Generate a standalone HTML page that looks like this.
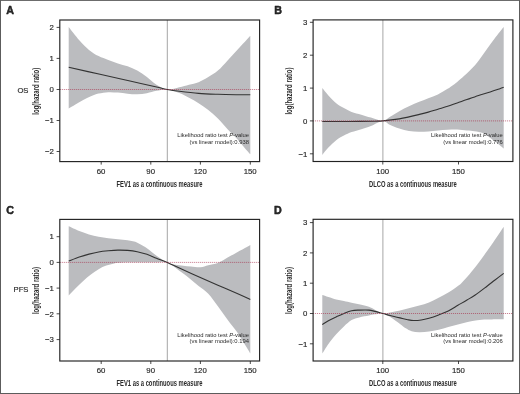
<!DOCTYPE html>
<html><head><meta charset="utf-8"><title>Figure</title>
<style>html,body{margin:0;padding:0;background:#fff}svg{display:block}text{font-family:"Liberation Sans",sans-serif;fill:#2a2a2a}.k{stroke:#2a2a2a;stroke-width:0.16px}</style></head><body>
<svg width="520" height="394" viewBox="0 0 520 394" style="will-change:transform">
<rect x="0" y="0" width="520" height="394" fill="#fff"/>
<g>
<path d="M68.70 27.10C70.47 29.30 75.92 36.50 79.30 40.30C82.68 44.10 85.78 47.27 89.00 49.90C92.22 52.53 95.38 54.42 98.60 56.10C101.82 57.78 105.08 58.78 108.30 60.00C111.52 61.22 114.68 62.35 117.90 63.40C121.12 64.45 124.38 65.10 127.60 66.30C130.82 67.50 133.98 68.83 137.20 70.60C140.42 72.37 143.68 74.55 146.90 76.90C150.12 79.25 153.10 82.60 156.50 84.70C159.90 86.80 163.50 89.08 167.30 89.50C171.10 89.92 175.68 88.00 179.30 87.20C182.92 86.40 185.78 85.53 189.00 84.70C192.22 83.87 195.38 83.48 198.60 82.20C201.82 80.92 205.08 78.93 208.30 77.00C211.52 75.07 214.68 73.37 217.90 70.60C221.12 67.83 224.38 63.83 227.60 60.40C230.82 56.97 233.98 53.48 237.20 50.00C240.42 46.52 244.72 41.87 246.90 39.50C249.08 37.13 249.73 36.42 250.30 35.80L250.30 154.30C249.73 153.67 249.08 153.07 246.90 150.50C244.72 147.93 240.42 142.45 237.20 138.90C233.98 135.35 230.82 132.58 227.60 129.20C224.38 125.82 221.12 121.82 217.90 118.60C214.68 115.38 211.52 112.47 208.30 109.90C205.08 107.33 201.82 105.22 198.60 103.20C195.38 101.18 192.22 99.48 189.00 97.80C185.78 96.12 182.92 94.48 179.30 93.10C175.68 91.72 171.10 89.88 167.30 89.50C163.50 89.12 159.90 90.18 156.50 90.80C153.10 91.42 150.12 92.62 146.90 93.20C143.68 93.78 140.42 94.22 137.20 94.30C133.98 94.38 130.82 93.98 127.60 93.70C124.38 93.42 121.12 92.85 117.90 92.60C114.68 92.35 111.52 92.03 108.30 92.20C105.08 92.37 101.50 92.92 98.60 93.60C95.70 94.28 93.47 95.23 90.90 96.30C88.33 97.37 85.78 98.63 83.20 100.00C80.62 101.37 77.82 103.07 75.40 104.50C72.98 105.93 69.82 107.92 68.70 108.60Z" fill="#bbbcbf"/>
<line x1="167.30" y1="20.00" x2="167.30" y2="161.60" stroke="#a6a6a6" stroke-width="1.0"/>
<path d="M68.70 67.30C73.92 68.47 89.78 72.02 100.00 74.30C110.22 76.58 120.00 78.75 130.00 81.00C140.00 83.25 153.78 86.38 160.00 87.80C166.22 89.22 164.08 88.92 167.30 89.50C170.52 90.08 174.08 90.65 179.30 91.30C184.52 91.95 192.17 92.90 198.60 93.40C205.03 93.90 211.50 94.08 217.90 94.30C224.30 94.52 231.60 94.62 237.00 94.70C242.40 94.78 248.08 94.78 250.30 94.80" fill="none" stroke="#333" stroke-width="1.1"/>
<line x1="59.80" y1="89.50" x2="259.60" y2="89.50" stroke="#a8304c" stroke-width="0.75" stroke-dasharray="1 1" stroke-opacity="0.9"/>
<rect x="59.80" y="20.00" width="199.80" height="141.60" fill="none" stroke="#222" stroke-width="1.15"/>
<line x1="101.20" y1="161.60" x2="101.20" y2="164.60" stroke="#1c1c1c" stroke-width="0.8"/>
<text x="101.10" y="173.80" font-size="7.80" text-anchor="middle" class="k">60</text>
<line x1="150.80" y1="161.60" x2="150.80" y2="164.60" stroke="#1c1c1c" stroke-width="0.8"/>
<text x="150.70" y="173.80" font-size="7.80" text-anchor="middle" class="k">90</text>
<line x1="200.40" y1="161.60" x2="200.40" y2="164.60" stroke="#1c1c1c" stroke-width="0.8"/>
<text x="200.30" y="173.80" font-size="7.80" text-anchor="middle" class="k">120</text>
<line x1="250.30" y1="161.60" x2="250.30" y2="164.60" stroke="#1c1c1c" stroke-width="0.8"/>
<text x="250.20" y="173.80" font-size="7.80" text-anchor="middle" class="k">150</text>
<line x1="56.60" y1="27.40" x2="59.80" y2="27.40" stroke="#1c1c1c" stroke-width="0.8"/>
<text x="53.80" y="30.15" font-size="7.80" text-anchor="end" class="k">2</text>
<line x1="56.60" y1="58.40" x2="59.80" y2="58.40" stroke="#1c1c1c" stroke-width="0.8"/>
<text x="53.80" y="61.15" font-size="7.80" text-anchor="end" class="k">1</text>
<line x1="56.60" y1="89.50" x2="59.80" y2="89.50" stroke="#1c1c1c" stroke-width="0.8"/>
<text x="53.80" y="92.25" font-size="7.80" text-anchor="end" class="k">0</text>
<line x1="56.60" y1="120.50" x2="59.80" y2="120.50" stroke="#1c1c1c" stroke-width="0.8"/>
<text x="53.80" y="123.25" font-size="7.80" text-anchor="end" class="k">−1</text>
<line x1="56.60" y1="151.50" x2="59.80" y2="151.50" stroke="#1c1c1c" stroke-width="0.8"/>
<text x="53.80" y="154.25" font-size="7.80" text-anchor="end" class="k">−2</text>
<text x="249.00" y="137.30" font-size="5.85" text-anchor="end">Likelihood ratio test <tspan font-style="italic">P</tspan>-value</text>
<text x="249.00" y="144.10" font-size="5.85" text-anchor="end">(vs linear model):0.938</text>
<text transform="translate(159.50 187.00) scale(0.7010 1)" font-size="8.30" text-anchor="middle" font-weight="bold" fill="#333">FEV1 as a continuous measure</text>
<text transform="translate(39.30 91.20) rotate(-90) scale(0.7229 1)" font-size="8.30" text-anchor="middle" font-weight="bold" fill="#333">log(hazard ratio)</text>
<text x="28.5" y="93.30" font-size="7.7" text-anchor="end" class="k">OS</text>
<text x="6.30" y="14.00" font-size="10.7" font-weight="bold" fill="#111" stroke="#111" stroke-width="0.45" stroke-linejoin="round">A</text>
</g>
<g>
<path d="M322.30 88.10C323.32 89.32 326.08 92.88 328.40 95.40C330.72 97.92 333.62 101.10 336.20 103.20C338.78 105.30 341.33 106.55 343.90 108.00C346.47 109.45 348.70 110.78 351.60 111.90C354.50 113.02 358.08 113.75 361.30 114.70C364.52 115.65 367.30 116.57 370.90 117.60C374.50 118.63 379.77 121.00 382.90 120.90C386.03 120.80 386.97 118.62 389.70 117.00C392.43 115.38 396.08 112.98 399.30 111.20C402.52 109.42 405.78 107.82 409.00 106.30C412.22 104.78 415.38 103.45 418.60 102.10C421.82 100.75 425.08 99.48 428.30 98.20C431.52 96.92 434.68 95.97 437.90 94.40C441.12 92.83 445.17 90.30 447.60 88.80C450.03 87.30 450.90 86.55 452.50 85.40C454.10 84.25 455.25 83.50 457.20 81.90C459.15 80.30 461.85 77.97 464.20 75.80C466.55 73.63 469.17 71.08 471.30 68.90C473.43 66.72 475.10 65.03 477.00 62.70C478.90 60.37 480.80 57.52 482.70 54.90C484.60 52.28 486.50 49.62 488.40 47.00C490.30 44.38 492.22 41.68 494.10 39.20C495.98 36.72 498.10 34.12 499.70 32.10C501.30 30.08 503.03 27.93 503.70 27.10L503.70 148.50C503.05 147.97 501.15 146.37 499.80 145.30C498.45 144.23 497.00 143.18 495.60 142.10C494.20 141.02 492.80 139.85 491.40 138.80C490.00 137.75 488.62 136.77 487.20 135.80C485.78 134.83 485.02 133.77 482.90 133.00C480.78 132.23 477.17 131.60 474.50 131.20C471.83 130.80 469.78 130.88 466.90 130.60C464.02 130.32 460.42 129.63 457.20 129.50C453.98 129.37 450.82 129.62 447.60 129.80C444.38 129.98 441.12 130.33 437.90 130.60C434.68 130.87 431.52 131.20 428.30 131.40C425.08 131.60 421.82 131.87 418.60 131.80C415.38 131.73 412.22 131.55 409.00 131.00C405.78 130.45 402.52 129.55 399.30 128.50C396.08 127.45 392.43 125.97 389.70 124.70C386.97 123.43 386.03 120.70 382.90 120.90C379.77 121.10 374.50 124.52 370.90 125.90C367.30 127.28 364.52 128.17 361.30 129.20C358.08 130.23 354.50 131.03 351.60 132.10C348.70 133.17 346.47 134.25 343.90 135.60C341.33 136.95 338.78 138.20 336.20 140.20C333.62 142.20 330.72 145.15 328.40 147.60C326.08 150.05 323.32 153.68 322.30 154.90Z" fill="#bbbcbf"/>
<line x1="382.90" y1="19.90" x2="382.90" y2="161.50" stroke="#a6a6a6" stroke-width="1.0"/>
<path d="M322.30 121.50C325.25 121.50 333.72 121.52 340.00 121.50C346.28 121.48 354.17 121.45 360.00 121.40C365.83 121.35 371.18 121.28 375.00 121.20C378.82 121.12 378.85 121.28 382.90 120.90C386.95 120.52 394.95 119.57 399.30 118.90C403.65 118.23 405.78 117.62 409.00 116.90C412.22 116.18 415.38 115.40 418.60 114.60C421.82 113.80 425.08 113.00 428.30 112.10C431.52 111.20 434.68 110.17 437.90 109.20C441.12 108.23 444.38 107.35 447.60 106.30C450.82 105.25 453.98 104.02 457.20 102.90C460.42 101.78 463.10 100.93 466.90 99.60C470.70 98.27 476.12 96.17 480.00 94.90C483.88 93.63 486.88 93.03 490.20 92.00C493.52 90.97 497.65 89.48 499.90 88.70C502.15 87.92 503.07 87.53 503.70 87.30" fill="none" stroke="#333" stroke-width="1.1"/>
<line x1="313.10" y1="120.90" x2="512.90" y2="120.90" stroke="#a8304c" stroke-width="0.75" stroke-dasharray="1 1" stroke-opacity="0.9"/>
<rect x="313.10" y="19.90" width="199.80" height="141.60" fill="none" stroke="#222" stroke-width="1.15"/>
<line x1="382.80" y1="161.50" x2="382.80" y2="164.50" stroke="#1c1c1c" stroke-width="0.8"/>
<text x="382.70" y="173.70" font-size="7.80" text-anchor="middle" class="k">100</text>
<line x1="458.50" y1="161.50" x2="458.50" y2="164.50" stroke="#1c1c1c" stroke-width="0.8"/>
<text x="458.40" y="173.70" font-size="7.80" text-anchor="middle" class="k">150</text>
<line x1="309.90" y1="22.30" x2="313.10" y2="22.30" stroke="#1c1c1c" stroke-width="0.8"/>
<text x="307.40" y="25.05" font-size="7.80" text-anchor="end" class="k">3</text>
<line x1="309.90" y1="55.20" x2="313.10" y2="55.20" stroke="#1c1c1c" stroke-width="0.8"/>
<text x="307.40" y="57.95" font-size="7.80" text-anchor="end" class="k">2</text>
<line x1="309.90" y1="88.10" x2="313.10" y2="88.10" stroke="#1c1c1c" stroke-width="0.8"/>
<text x="307.40" y="90.85" font-size="7.80" text-anchor="end" class="k">1</text>
<line x1="309.90" y1="120.90" x2="313.10" y2="120.90" stroke="#1c1c1c" stroke-width="0.8"/>
<text x="307.40" y="123.65" font-size="7.80" text-anchor="end" class="k">0</text>
<line x1="309.90" y1="153.80" x2="313.10" y2="153.80" stroke="#1c1c1c" stroke-width="0.8"/>
<text x="307.40" y="156.55" font-size="7.80" text-anchor="end" class="k">−1</text>
<text x="502.80" y="137.30" font-size="5.85" text-anchor="end">Likelihood ratio test <tspan font-style="italic">P</tspan>-value</text>
<text x="502.80" y="144.10" font-size="5.85" text-anchor="end">(vs linear model):0.776</text>
<text transform="translate(412.90 186.90) scale(0.6999 1)" font-size="8.30" text-anchor="middle" font-weight="bold" fill="#333">DLCO as a continuous measure</text>
<text transform="translate(292.20 91.10) rotate(-90) scale(0.7229 1)" font-size="8.30" text-anchor="middle" font-weight="bold" fill="#333">log(hazard ratio)</text>
<text x="274.20" y="14.00" font-size="10.7" font-weight="bold" fill="#111" stroke="#111" stroke-width="0.45" stroke-linejoin="round">B</text>
</g>
<g>
<path d="M68.70 226.30C70.47 227.08 75.92 229.65 79.30 231.00C82.68 232.35 85.78 233.43 89.00 234.40C92.22 235.37 95.38 236.17 98.60 236.80C101.82 237.43 105.08 237.80 108.30 238.20C111.52 238.60 114.68 238.87 117.90 239.20C121.12 239.53 124.70 239.77 127.60 240.20C130.50 240.63 133.05 241.03 135.30 241.80C137.55 242.57 139.17 243.72 141.10 244.80C143.03 245.88 144.33 246.48 146.90 248.30C149.47 250.12 153.10 253.35 156.50 255.70C159.90 258.05 164.15 260.88 167.30 262.40C170.45 263.92 172.75 264.25 175.40 264.80C178.05 265.35 180.62 265.42 183.20 265.70C185.78 265.98 188.02 266.23 190.90 266.50C193.78 266.77 197.60 267.50 200.50 267.30C203.40 267.10 205.40 266.02 208.30 265.30C211.20 264.58 214.68 264.28 217.90 263.00C221.12 261.72 224.38 259.40 227.60 257.60C230.82 255.80 233.98 253.97 237.20 252.20C240.42 250.43 244.72 248.18 246.90 247.00C249.08 245.82 249.73 245.42 250.30 245.10L250.30 353.50C249.73 352.53 249.08 351.23 246.90 347.70C244.72 344.17 240.42 336.97 237.20 332.30C233.98 327.63 230.82 324.05 227.60 319.70C224.38 315.35 221.12 310.53 217.90 306.20C214.68 301.87 211.52 297.07 208.30 293.70C205.08 290.33 201.82 288.63 198.60 286.00C195.38 283.37 192.22 280.45 189.00 277.90C185.78 275.35 182.92 273.28 179.30 270.70C175.68 268.12 171.10 263.82 167.30 262.40C163.50 260.98 161.52 262.22 156.50 262.20C151.48 262.18 142.98 262.25 137.20 262.30C131.42 262.35 125.65 262.32 121.80 262.50C117.95 262.68 116.68 262.88 114.10 263.40C111.52 263.92 108.88 264.63 106.30 265.60C103.72 266.57 101.17 267.72 98.60 269.20C96.03 270.68 93.47 272.55 90.90 274.50C88.33 276.45 85.78 278.58 83.20 280.90C80.62 283.22 77.82 285.98 75.40 288.40C72.98 290.82 69.82 294.23 68.70 295.40Z" fill="#bbbcbf"/>
<line x1="167.30" y1="219.40" x2="167.30" y2="361.00" stroke="#a6a6a6" stroke-width="1.0"/>
<path d="M68.70 261.10C70.47 260.42 75.92 258.17 79.30 257.00C82.68 255.83 85.78 254.93 89.00 254.10C92.22 253.27 95.38 252.55 98.60 252.00C101.82 251.45 105.08 251.12 108.30 250.80C111.52 250.48 114.68 250.17 117.90 250.10C121.12 250.03 124.38 250.13 127.60 250.40C130.82 250.67 133.98 251.05 137.20 251.70C140.42 252.35 143.68 253.22 146.90 254.30C150.12 255.38 153.10 256.85 156.50 258.20C159.90 259.55 163.50 260.77 167.30 262.40C171.10 264.03 174.08 265.62 179.30 268.00C184.52 270.38 192.17 273.83 198.60 276.70C205.03 279.57 211.47 282.38 217.90 285.20C224.33 288.02 231.80 291.22 237.20 293.60C242.60 295.98 248.12 298.52 250.30 299.50" fill="none" stroke="#333" stroke-width="1.1"/>
<line x1="59.80" y1="262.40" x2="259.60" y2="262.40" stroke="#a8304c" stroke-width="0.75" stroke-dasharray="1 1" stroke-opacity="0.9"/>
<rect x="59.80" y="219.40" width="199.80" height="141.60" fill="none" stroke="#222" stroke-width="1.15"/>
<line x1="101.20" y1="361.00" x2="101.20" y2="364.00" stroke="#1c1c1c" stroke-width="0.8"/>
<text x="101.10" y="373.20" font-size="7.80" text-anchor="middle" class="k">60</text>
<line x1="150.80" y1="361.00" x2="150.80" y2="364.00" stroke="#1c1c1c" stroke-width="0.8"/>
<text x="150.70" y="373.20" font-size="7.80" text-anchor="middle" class="k">90</text>
<line x1="200.40" y1="361.00" x2="200.40" y2="364.00" stroke="#1c1c1c" stroke-width="0.8"/>
<text x="200.30" y="373.20" font-size="7.80" text-anchor="middle" class="k">120</text>
<line x1="250.30" y1="361.00" x2="250.30" y2="364.00" stroke="#1c1c1c" stroke-width="0.8"/>
<text x="250.20" y="373.20" font-size="7.80" text-anchor="middle" class="k">150</text>
<line x1="56.60" y1="236.70" x2="59.80" y2="236.70" stroke="#1c1c1c" stroke-width="0.8"/>
<text x="53.80" y="239.45" font-size="7.80" text-anchor="end" class="k">1</text>
<line x1="56.60" y1="262.40" x2="59.80" y2="262.40" stroke="#1c1c1c" stroke-width="0.8"/>
<text x="53.80" y="265.15" font-size="7.80" text-anchor="end" class="k">0</text>
<line x1="56.60" y1="288.10" x2="59.80" y2="288.10" stroke="#1c1c1c" stroke-width="0.8"/>
<text x="53.80" y="290.85" font-size="7.80" text-anchor="end" class="k">−1</text>
<line x1="56.60" y1="313.80" x2="59.80" y2="313.80" stroke="#1c1c1c" stroke-width="0.8"/>
<text x="53.80" y="316.55" font-size="7.80" text-anchor="end" class="k">−2</text>
<line x1="56.60" y1="339.60" x2="59.80" y2="339.60" stroke="#1c1c1c" stroke-width="0.8"/>
<text x="53.80" y="342.35" font-size="7.80" text-anchor="end" class="k">−3</text>
<text x="249.00" y="336.60" font-size="5.85" text-anchor="end">Likelihood ratio test <tspan font-style="italic">P</tspan>-value</text>
<text x="249.00" y="343.40" font-size="5.85" text-anchor="end">(vs linear model):0.194</text>
<text transform="translate(159.50 386.40) scale(0.7010 1)" font-size="8.30" text-anchor="middle" font-weight="bold" fill="#333">FEV1 as a continuous measure</text>
<text transform="translate(39.30 290.60) rotate(-90) scale(0.7229 1)" font-size="8.30" text-anchor="middle" font-weight="bold" fill="#333">log(hazard ratio)</text>
<text x="28.5" y="292.00" font-size="7.7" text-anchor="end" class="k">PFS</text>
<text x="6.30" y="213.60" font-size="10.7" font-weight="bold" fill="#111" stroke="#111" stroke-width="0.45" stroke-linejoin="round">C</text>
</g>
<g>
<path d="M322.30 295.00C323.32 295.33 326.08 296.25 328.40 297.00C330.72 297.75 333.62 298.83 336.20 299.50C338.78 300.17 341.33 300.45 343.90 301.00C346.47 301.55 348.70 302.18 351.60 302.80C354.50 303.42 358.40 304.03 361.30 304.70C364.20 305.37 366.75 305.97 369.00 306.80C371.25 307.63 372.48 308.58 374.80 309.70C377.12 310.82 380.33 313.05 382.90 313.50C385.47 313.95 387.35 312.92 390.20 312.40C393.05 311.88 396.75 311.15 400.00 310.40C403.25 309.65 406.48 308.72 409.70 307.90C412.92 307.08 416.08 306.42 419.30 305.50C422.52 304.58 425.78 303.68 429.00 302.40C432.22 301.12 435.38 299.43 438.60 297.80C441.82 296.17 445.08 294.57 448.30 292.60C451.52 290.63 455.62 287.70 457.90 286.00C460.18 284.30 460.07 284.37 462.00 282.40C463.93 280.43 466.92 277.23 469.50 274.20C472.08 271.17 475.03 267.40 477.50 264.20C479.97 261.00 482.22 257.87 484.30 255.00C486.38 252.13 488.37 249.33 490.00 247.00C491.63 244.67 492.45 243.42 494.10 241.00C495.75 238.58 498.30 234.88 499.90 232.50C501.50 230.12 503.07 227.67 503.70 226.70L503.70 319.20C503.07 319.20 502.70 319.15 499.90 319.20C497.10 319.25 490.68 319.33 486.90 319.50C483.12 319.67 480.42 319.80 477.20 320.20C473.98 320.60 470.82 321.20 467.60 321.90C464.38 322.60 461.12 323.55 457.90 324.40C454.68 325.25 451.52 326.12 448.30 327.00C445.08 327.88 441.82 328.93 438.60 329.70C435.38 330.47 432.22 331.17 429.00 331.60C425.78 332.03 422.20 332.37 419.30 332.30C416.40 332.23 413.85 331.87 411.60 331.20C409.35 330.53 407.73 329.52 405.80 328.30C403.87 327.08 402.60 325.80 400.00 323.90C397.40 322.00 393.05 318.63 390.20 316.90C387.35 315.17 385.47 313.93 382.90 313.50C380.33 313.07 377.12 313.97 374.80 314.30C372.48 314.63 371.58 314.98 369.00 315.50C366.42 316.02 362.20 316.63 359.30 317.40C356.40 318.17 354.17 318.58 351.60 320.10C349.03 321.62 346.47 324.15 343.90 326.50C341.33 328.85 338.78 331.30 336.20 334.20C333.62 337.10 330.72 340.68 328.40 343.90C326.08 347.12 323.32 351.90 322.30 353.50Z" fill="#bbbcbf"/>
<line x1="382.90" y1="219.30" x2="382.90" y2="361.00" stroke="#a6a6a6" stroke-width="1.0"/>
<path d="M322.30 324.60C323.32 323.95 326.08 321.98 328.40 320.70C330.72 319.42 333.62 318.12 336.20 316.90C338.78 315.68 341.33 314.43 343.90 313.40C346.47 312.37 349.03 311.25 351.60 310.70C354.17 310.15 356.40 310.20 359.30 310.10C362.20 310.00 366.42 309.88 369.00 310.10C371.58 310.32 372.48 310.83 374.80 311.40C377.12 311.97 380.33 312.82 382.90 313.50C385.47 314.18 387.35 314.77 390.20 315.50C393.05 316.23 397.08 317.20 400.00 317.90C402.92 318.60 405.45 319.27 407.70 319.70C409.95 320.13 411.25 320.45 413.50 320.50C415.75 320.55 418.62 320.38 421.20 320.00C423.78 319.62 426.10 319.05 429.00 318.20C431.90 317.35 435.38 316.12 438.60 314.90C441.82 313.68 445.08 312.50 448.30 310.90C451.52 309.30 454.78 307.12 457.90 305.30C461.02 303.48 464.12 301.72 467.00 300.00C469.88 298.28 471.87 297.30 475.20 295.00C478.53 292.70 483.70 288.70 487.00 286.20C490.30 283.70 492.22 282.13 495.00 280.00C497.78 277.87 502.25 274.50 503.70 273.40" fill="none" stroke="#333" stroke-width="1.1"/>
<line x1="313.10" y1="313.50" x2="512.90" y2="313.50" stroke="#a8304c" stroke-width="0.75" stroke-dasharray="1 1" stroke-opacity="0.9"/>
<rect x="313.10" y="219.30" width="199.80" height="141.70" fill="none" stroke="#222" stroke-width="1.15"/>
<line x1="382.80" y1="361.00" x2="382.80" y2="364.00" stroke="#1c1c1c" stroke-width="0.8"/>
<text x="382.70" y="373.20" font-size="7.80" text-anchor="middle" class="k">100</text>
<line x1="458.50" y1="361.00" x2="458.50" y2="364.00" stroke="#1c1c1c" stroke-width="0.8"/>
<text x="458.40" y="373.20" font-size="7.80" text-anchor="middle" class="k">150</text>
<line x1="309.90" y1="222.60" x2="313.10" y2="222.60" stroke="#1c1c1c" stroke-width="0.8"/>
<text x="307.40" y="225.35" font-size="7.80" text-anchor="end" class="k">3</text>
<line x1="309.90" y1="252.90" x2="313.10" y2="252.90" stroke="#1c1c1c" stroke-width="0.8"/>
<text x="307.40" y="255.65" font-size="7.80" text-anchor="end" class="k">2</text>
<line x1="309.90" y1="283.20" x2="313.10" y2="283.20" stroke="#1c1c1c" stroke-width="0.8"/>
<text x="307.40" y="285.95" font-size="7.80" text-anchor="end" class="k">1</text>
<line x1="309.90" y1="313.50" x2="313.10" y2="313.50" stroke="#1c1c1c" stroke-width="0.8"/>
<text x="307.40" y="316.25" font-size="7.80" text-anchor="end" class="k">0</text>
<line x1="309.90" y1="343.80" x2="313.10" y2="343.80" stroke="#1c1c1c" stroke-width="0.8"/>
<text x="307.40" y="346.55" font-size="7.80" text-anchor="end" class="k">−1</text>
<text x="502.80" y="336.60" font-size="5.85" text-anchor="end">Likelihood ratio test <tspan font-style="italic">P</tspan>-value</text>
<text x="502.80" y="343.40" font-size="5.85" text-anchor="end">(vs linear model):0.206</text>
<text transform="translate(412.90 386.40) scale(0.6999 1)" font-size="8.30" text-anchor="middle" font-weight="bold" fill="#333">DLCO as a continuous measure</text>
<text transform="translate(292.20 290.55) rotate(-90) scale(0.7229 1)" font-size="8.30" text-anchor="middle" font-weight="bold" fill="#333">log(hazard ratio)</text>
<text x="274.00" y="213.50" font-size="10.7" font-weight="bold" fill="#111" stroke="#111" stroke-width="0.45" stroke-linejoin="round">D</text>
</g>
<rect x="0.5" y="0.4" width="519" height="393.1" fill="none" stroke="#5c5c5c" stroke-width="1"/>
</svg></body></html>
